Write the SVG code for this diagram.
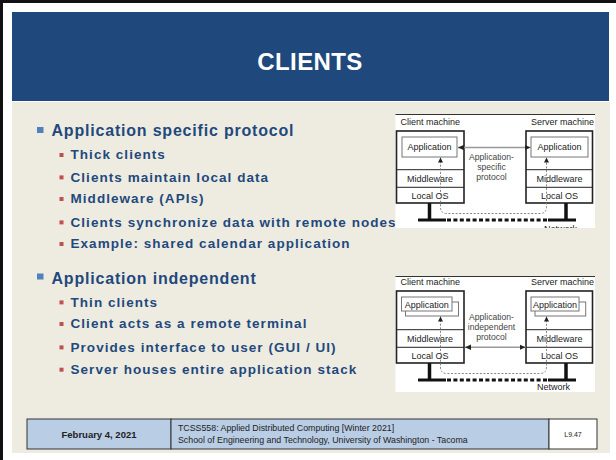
<svg xmlns="http://www.w3.org/2000/svg" width="616" height="460" viewBox="0 0 616 460">
<style>
.main{font-family:"Liberation Sans",Arial,sans-serif;font-weight:bold;font-size:16px;letter-spacing:0.8px;fill:#1F497D}
.sub{font-family:"Liberation Sans",Arial,sans-serif;font-weight:bold;font-size:13.5px;letter-spacing:1.05px;fill:#1F497D}
.dg{font-family:"Liberation Sans",Arial,sans-serif;font-size:9px;fill:#222}
.dge{font-family:"Liberation Sans",Arial,sans-serif;font-size:9px;fill:#222;text-anchor:end}
.dgc{font-family:"Liberation Sans",Arial,sans-serif;font-size:9px;fill:#222;text-anchor:middle}
.pr{font-family:"Liberation Sans",Arial,sans-serif;font-size:8.6px;fill:#444;text-anchor:middle}
.box{fill:#fff;stroke:#222;stroke-width:1.6}
.app{fill:#fff;stroke:#777;stroke-width:1}
.div{stroke:#222;stroke-width:1}
.stand{stroke:#111;stroke-width:3.5}
.net{stroke:#111;stroke-width:3}
.netd{stroke:#111;stroke-width:3;stroke-dasharray:4 2.4}
.proto{stroke:#999;stroke-width:1.6;fill:none}
.dash{stroke:#777;stroke-width:0.9;stroke-dasharray:2 1.6;fill:none}
.ft{font-family:"Liberation Sans",Arial,sans-serif;fill:#222}
</style>
<defs>
<marker id="ah" markerUnits="userSpaceOnUse" markerWidth="7" markerHeight="6" refX="6" refY="3" orient="auto-start-reverse"><path d="M0,0.3 L6,3 L0,5.7 z" fill="#222"/></marker>
<marker id="ahs" markerUnits="userSpaceOnUse" markerWidth="6" markerHeight="6" refX="5" refY="2.5" orient="auto-start-reverse"><path d="M0,0 L5,2.5 L0,5 z" fill="#222"/></marker>
<clipPath id="clip1"><rect x="395" y="114" width="200" height="114"/></clipPath>
</defs>
<rect x="0" y="0" width="616" height="460" fill="#fff"/>
<rect x="0" y="0" width="616" height="3" fill="#111"/>
<rect x="0" y="0" width="3" height="460" fill="#111"/>
<rect x="12" y="102" width="598" height="351" fill="#EEECE1"/>
<g id="title">
<rect x="12" y="12" width="597" height="89" fill="#1F497D"/>
<text x="310" y="70" text-anchor="middle" font-family="'Liberation Sans',Arial,sans-serif" font-weight="bold" font-size="24" letter-spacing="0.4" fill="#fff">CLIENTS</text>
</g>
<g id="bullets">
<rect x="37" y="127" width="6.5" height="6" fill="#4F81BD"/>
<text class="main" x="51.5" y="136">Application specific protocol</text>
<rect x="59.5" y="153" width="4" height="4" fill="#C0504D"/>
<text class="sub" x="70.5" y="159.3">Thick clients</text>
<rect x="59.5" y="175.4" width="4" height="4" fill="#C0504D"/>
<text class="sub" x="70.5" y="181.7">Clients maintain local data</text>
<rect x="59.5" y="197" width="4" height="4" fill="#C0504D"/>
<text class="sub" x="70.5" y="203.3">Middleware (APIs)</text>
<rect x="59.5" y="220.4" width="4" height="4" fill="#C0504D"/>
<text class="sub" x="70.5" y="226.7">Clients synchronize data with remote nodes</text>
<rect x="59.5" y="242" width="4" height="4" fill="#C0504D"/>
<text class="sub" x="70.5" y="248.3">Example: shared calendar application</text>
<rect x="37" y="273.5" width="6.5" height="6" fill="#4F81BD"/>
<text class="main" x="51.5" y="284">Application independent</text>
<rect x="59.5" y="300.4" width="4" height="4" fill="#C0504D"/>
<text class="sub" x="70.5" y="306.7">Thin clients</text>
<rect x="59.5" y="322" width="4" height="4" fill="#C0504D"/>
<text class="sub" x="70.5" y="328.3">Client acts as a remote terminal</text>
<rect x="59.5" y="345.4" width="4" height="4" fill="#C0504D"/>
<text class="sub" x="70.5" y="351.7">Provides interface to user (GUI / UI)</text>
<rect x="59.5" y="367.7" width="4" height="4" fill="#C0504D"/>
<text class="sub" x="70.5" y="374">Server houses entire application stack</text>
</g>
<g id="diagram1">
<rect x="395.5" y="114" width="199.5" height="114" fill="#fff"/>
<line x1="395.5" y1="114.5" x2="595" y2="114.5" stroke="#333" stroke-width="1"/>
<text class="dg" x="400.5" y="125">Client machine</text>
<text class="dge" x="594" y="125">Server machine</text>
<g id="client1">
<rect class="box" x="396.5" y="131" width="67.5" height="72"/>
<line class="div" x1="396.5" y1="169.7" x2="464" y2="169.7"/>
<line class="div" x1="396.5" y1="187.3" x2="464" y2="187.3"/>
<rect class="app" x="402" y="137" width="55" height="20"/>
<text class="dgc" x="429.5" y="150.3">Application</text>
<text class="dgc" x="430" y="182">Middleware</text>
<text class="dgc" x="430" y="199">Local OS</text>
</g>
<g id="server1">
<rect class="box" x="526" y="131" width="66.5" height="72"/>
<line class="div" x1="526" y1="169.7" x2="592.5" y2="169.7"/>
<line class="div" x1="526" y1="187.3" x2="592.5" y2="187.3"/>
<rect class="app" x="531" y="137" width="57" height="20"/>
<text class="dgc" x="559.5" y="150.3">Application</text>
<text class="dgc" x="559.5" y="182">Middleware</text>
<text class="dgc" x="559.5" y="199">Local OS</text>
</g>
<g id="network1">
<line class="stand" x1="429.5" y1="203" x2="429.5" y2="221"/>
<line class="stand" x1="566" y1="203" x2="566" y2="221"/>
<line class="net" x1="418" y1="220" x2="446" y2="220"/>
<line class="netd" x1="447" y1="220" x2="547" y2="220"/>
<line class="net" x1="548" y1="220" x2="576" y2="220"/>
<text class="dg" x="544" y="231.5" clip-path="url(#clip1)">Network</text>
</g>
<text class="pr" x="491.5" y="159.5">Application-</text>
<text class="pr" x="491.5" y="169.5">specific</text>
<text class="pr" x="491.5" y="180">protocol</text>
</g>
<g id="diagram2">
<rect x="395.5" y="276" width="199.5" height="116" fill="#fff"/>
<line x1="395.5" y1="276.5" x2="595" y2="276.5" stroke="#333" stroke-width="1"/>
<text class="dg" x="400.5" y="285">Client machine</text>
<text class="dge" x="594" y="285">Server machine</text>
<g id="client2">
<rect class="box" x="396.5" y="291" width="67.5" height="72"/>
<line class="div" x1="396.5" y1="329.7" x2="464" y2="329.7"/>
<line class="div" x1="396.5" y1="347.3" x2="464" y2="347.3"/>
<rect class="app" x="405.5" y="302" width="53" height="14"/>
<rect class="app" x="401.5" y="297" width="50.5" height="14"/>
<text class="dgc" x="426.7" y="307.5">Application</text>
<text class="dgc" x="430" y="342">Middleware</text>
<text class="dgc" x="430" y="359">Local OS</text>
</g>
<g id="server2">
<rect class="box" x="526" y="291" width="66.5" height="72"/>
<line class="div" x1="526" y1="329.7" x2="592.5" y2="329.7"/>
<line class="div" x1="526" y1="347.3" x2="592.5" y2="347.3"/>
<rect class="app" x="535" y="302" width="50.7" height="14"/>
<rect class="app" x="531" y="297" width="48" height="14"/>
<text class="dgc" x="555" y="307.5">Application</text>
<text class="dgc" x="559.5" y="342">Middleware</text>
<text class="dgc" x="559.5" y="359">Local OS</text>
</g>
<g id="network2">
<line class="stand" x1="429.5" y1="363" x2="429.5" y2="381"/>
<line class="stand" x1="566" y1="363" x2="566" y2="381"/>
<line class="net" x1="418" y1="380" x2="446" y2="380"/>
<line class="netd" x1="447" y1="380" x2="547" y2="380"/>
<line class="net" x1="548" y1="380" x2="576" y2="380"/>
<text class="dg" x="537" y="390">Network</text>
</g>
<text class="pr" x="491.5" y="319.5">Application-</text>
<text class="pr" x="491.5" y="329.5">independent</text>
<text class="pr" x="491.5" y="340">protocol</text>
</g>
<g id="connectors">
<line class="proto" x1="458" y1="147.5" x2="530.5" y2="147.5" marker-start="url(#ah)" marker-end="url(#ah)"/>
<path class="dash" d="M440.5,157.5 L440.5,207 Q440.5,213.5 447,213.5 L540,213.5 Q546.5,213.5 546.5,207 L546.5,157.5" marker-start="url(#ahs)" marker-end="url(#ahs)"/>
<line class="proto" x1="465" y1="347.3" x2="525.5" y2="347.3" marker-start="url(#ah)" marker-end="url(#ah)"/>
<path class="dash" d="M440.5,316.5 L440.5,367 Q440.5,373.5 447,373.5 L540,373.5 Q546.5,373.5 546.5,367 L546.5,316.5" marker-start="url(#ahs)" marker-end="url(#ahs)"/>
</g>
<g id="footer">
<rect x="27" y="419" width="144" height="30" fill="#B9CDE5" stroke="#333" stroke-width="1"/>
<rect x="171" y="419" width="378" height="30" fill="#B9CDE5" stroke="#333" stroke-width="1"/>
<rect x="549" y="419" width="48" height="30" fill="#fff" stroke="#333" stroke-width="1"/>
<text class="ft" x="99" y="438" text-anchor="middle" font-size="9.5" font-weight="bold">February 4, 2021</text>
<text class="ft" x="178" y="431" font-size="8.8">TCSS558: Applied Distributed Computing [Winter 2021]</text>
<text class="ft" x="178" y="442.5" font-size="8.8">School of Engineering and Technology, University of Washington - Tacoma</text>
<text class="ft" x="573" y="437" text-anchor="middle" font-size="7">L9.47</text>
</g>
</svg>
